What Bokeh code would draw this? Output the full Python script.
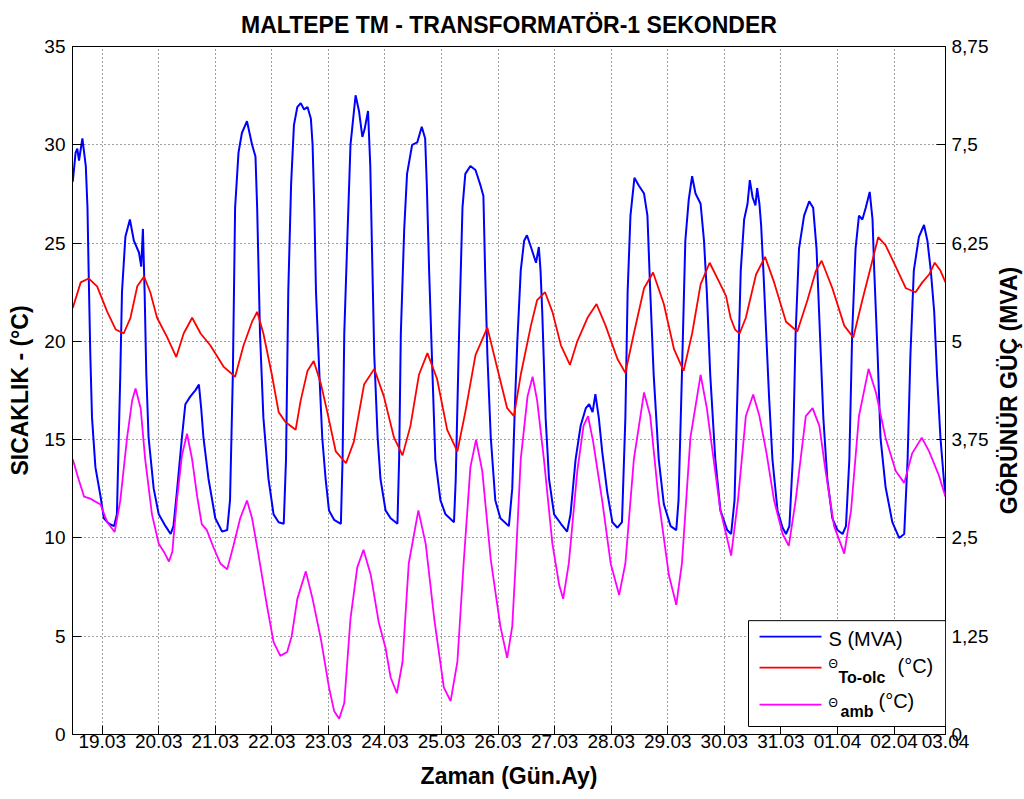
import math
from bokeh.plotting import figure
from bokeh.models import Range1d, LinearAxis, FixedTicker, BoxAnnotation, Label
from bokeh.embed import file_html
from bokeh.resources import INLINE

# ---------------- data (time in days since 19.03 00:00) ----------------
s_time = [-0.52, -0.47, -0.44, -0.41, -0.35, -0.29, -0.26, -0.24, -0.21, -0.18, -0.12, -0.03, 0.03, 0.12, 0.21,
          0.26, 0.32, 0.35, 0.41, 0.49, 0.56, 0.65, 0.69, 0.72, 0.75, 0.78, 0.82, 0.91, 1.00, 1.12, 1.21, 1.26,
          1.32, 1.41, 1.47, 1.56, 1.65, 1.71, 1.75, 1.79, 1.88, 2.00, 2.12, 2.21, 2.26, 2.31, 2.35, 2.41, 2.47,
          2.56, 2.65, 2.71, 2.74, 2.79, 2.85, 2.94, 3.03, 3.12, 3.21, 3.25, 3.29, 3.34, 3.39, 3.45, 3.51, 3.57,
          3.63, 3.69, 3.72, 3.75, 3.78, 3.84, 3.89, 3.95, 4.01, 4.10, 4.22, 4.25, 4.28, 4.34, 4.39, 4.48, 4.54,
          4.60, 4.64, 4.70, 4.74, 4.77, 4.81, 4.87, 4.92, 5.01, 5.10, 5.22, 5.25, 5.28, 5.34, 5.39, 5.48, 5.57,
          5.65, 5.71, 5.74, 5.78, 5.84, 5.89, 5.98, 6.07, 6.22, 6.25, 6.31, 6.37, 6.42, 6.51, 6.60, 6.69, 6.74,
          6.77, 6.81, 6.87, 6.95, 7.04, 7.19, 7.25, 7.30, 7.34, 7.40, 7.46, 7.51, 7.58, 7.67, 7.72, 7.75, 7.78,
          7.84, 7.90, 7.99, 8.11, 8.22, 8.28, 8.37, 8.46, 8.55, 8.61, 8.67, 8.72, 8.78, 8.84, 8.93, 9.02, 9.11,
          9.19, 9.25, 9.29, 9.34, 9.41, 9.49, 9.58, 9.64, 9.69, 9.75, 9.84, 9.93, 10.05, 10.15, 10.19, 10.25,
          10.31, 10.37, 10.43, 10.49, 10.58, 10.64, 10.69, 10.75, 10.84, 10.93, 11.05, 11.12, 11.18, 11.24,
          11.29, 11.35, 11.41, 11.45, 11.50, 11.55, 11.58, 11.62, 11.65, 11.69, 11.74, 11.79, 11.85, 11.94,
          12.03, 12.09, 12.15, 12.21, 12.26, 12.32, 12.41, 12.50, 12.57, 12.63, 12.69, 12.75, 12.82, 12.91,
          13.00, 13.09, 13.15, 13.21, 13.26, 13.32, 13.38, 13.44, 13.50, 13.57, 13.62, 13.65, 13.71, 13.76,
          13.85, 13.97, 14.09, 14.18, 14.24, 14.29, 14.35, 14.44, 14.53, 14.59, 14.65, 14.71, 14.76, 14.82,
          14.88, 14.91]
s_mva = [7.03, 7.40, 7.45, 7.30, 7.58, 7.23, 6.70, 5.90, 4.83, 4.03, 3.40, 3.03, 2.75, 2.68, 2.65,
         2.80, 4.58, 5.63, 6.33, 6.55, 6.28, 6.13, 5.95, 6.43, 5.63, 4.58, 3.78, 3.13, 2.80, 2.65, 2.55, 2.65,
         3.08, 3.78, 4.20, 4.30, 4.38, 4.45, 4.15, 3.78, 3.25, 2.75, 2.58, 2.60, 2.98, 4.58, 6.70, 7.40, 7.65,
         7.80, 7.50, 7.35, 6.70, 5.10, 4.03, 3.25, 2.80, 2.70, 2.68, 3.50, 5.63, 7.00, 7.75, 7.98, 8.03, 7.95,
         7.98, 7.83, 7.50, 6.70, 5.63, 4.58, 3.78, 3.25, 2.85, 2.73, 2.68, 3.50, 5.10, 6.43, 7.50, 8.13, 7.93,
         7.60, 7.70, 7.93, 7.23, 6.18, 4.83, 3.78, 3.25, 2.85, 2.75, 2.68, 3.50, 5.10, 6.43, 7.13, 7.50, 7.53,
         7.73, 7.58, 6.98, 5.90, 4.58, 3.50, 2.98, 2.80, 2.70, 3.23, 5.10, 6.70, 7.13, 7.23, 7.18, 6.98, 6.85,
         5.90, 4.83, 3.78, 2.98, 2.75, 2.65, 3.13, 4.25, 5.00, 5.90, 6.28, 6.35, 6.20, 6.00, 6.20, 5.90, 5.38,
         4.03, 3.25, 2.80, 2.68, 2.58, 2.80, 3.50, 3.93, 4.15, 4.20, 4.10, 4.33, 4.03, 3.60, 3.08, 2.70, 2.63,
         2.70, 4.03, 5.63, 6.60, 7.08, 6.98, 6.88, 6.60, 5.63, 4.58, 3.50, 2.93, 2.65, 2.60, 2.98, 4.58,
         6.28, 6.80, 7.10, 6.88, 6.75, 6.28, 5.63, 4.58, 3.50, 2.85, 2.60, 2.55, 2.98, 4.58,
         5.90, 6.55, 6.75, 7.05, 6.83, 6.73, 6.95, 6.75, 6.48, 5.90, 5.10, 4.30, 3.50, 2.85,
         2.63, 2.55, 2.65, 3.50, 5.10, 6.18, 6.60, 6.78, 6.70, 6.18, 5.10, 4.03, 3.25, 2.75,
         2.60, 2.55, 2.65, 3.50, 5.10, 6.18, 6.60, 6.55, 6.70, 6.90, 6.55, 5.90, 4.83, 3.78,
         3.15, 2.70, 2.50, 2.55, 3.50, 4.83, 5.90, 6.33, 6.48, 6.28, 5.90, 5.38, 4.58, 3.78,
         3.25, 3.03]

oil_time = [-0.52, -0.38, -0.24, -0.09, 0.09, 0.24, 0.38, 0.50, 0.62, 0.74, 0.85, 0.97, 1.15, 1.31, 1.44,
            1.59, 1.74, 1.91, 2.15, 2.35, 2.50, 2.65, 2.74, 2.85, 3.00, 3.12, 3.24, 3.42, 3.51, 3.63, 3.74,
            3.87, 3.98, 4.13, 4.31, 4.45, 4.63, 4.81, 4.98, 5.16, 5.31, 5.45, 5.60, 5.75, 5.92, 6.10, 6.28,
            6.42, 6.60, 6.81, 6.98, 7.16, 7.28, 7.40, 7.58, 7.69, 7.83, 7.96, 8.11, 8.27, 8.40, 8.58, 8.74,
            8.90, 9.11, 9.25, 9.40, 9.58, 9.74, 9.93, 10.11, 10.28, 10.43, 10.58, 10.74, 10.93, 11.03, 11.11,
            11.19, 11.27, 11.38, 11.56, 11.72, 11.88, 12.09, 12.29, 12.47, 12.62, 12.72, 12.91, 13.12, 13.28,
            13.44, 13.59, 13.72, 13.85, 14.03, 14.21, 14.38, 14.50, 14.62, 14.72, 14.82, 14.91]
oil_temp = [21.7, 23.0, 23.2, 22.8, 21.5, 20.6, 20.4, 21.2, 22.8, 23.3, 22.5, 21.2, 20.2, 19.2, 20.4,
            21.2, 20.4, 19.8, 18.7, 18.2, 19.8, 21.0, 21.5, 20.4, 18.3, 16.4, 15.9, 15.5, 17.0, 18.5, 19.0,
            17.8, 16.4, 14.4, 13.8, 14.9, 17.8, 18.6, 17.2, 15.1, 14.2, 15.7, 18.3, 19.4, 18.1, 15.5, 14.4,
            16.4, 19.3, 20.7, 18.7, 16.6, 16.2, 18.3, 20.8, 22.1, 22.5, 21.5, 19.8, 18.8, 20.0, 21.2, 21.9,
            20.8, 19.1, 18.4, 20.4, 22.7, 23.5, 21.9, 19.6, 18.5, 20.4, 22.9, 24.0, 22.9, 22.3, 21.2,
            20.6, 20.4, 21.2, 23.4, 24.3, 23.0, 21.0, 20.5, 22.1, 23.6, 24.1, 22.7, 20.8, 20.2,
            22.1, 23.8, 25.3, 24.9, 23.8, 22.7, 22.5, 23.0, 23.4, 24.0, 23.6, 23.0]

amb_time = [-0.52, -0.44, -0.32, -0.21, -0.03, 0.09, 0.22, 0.32, 0.44, 0.53, 0.59, 0.68, 0.76, 0.88, 1.00,
            1.09, 1.18, 1.24, 1.32, 1.41, 1.50, 1.59, 1.68, 1.76, 1.85, 1.97, 2.09, 2.21, 2.32, 2.44, 2.56,
            2.65, 2.76, 2.91, 3.03, 3.15, 3.27, 3.35, 3.45, 3.60, 3.72, 3.87, 4.01, 4.10, 4.19, 4.28, 4.39,
            4.51, 4.62, 4.75, 4.89, 5.01, 5.10, 5.21, 5.31, 5.42, 5.59, 5.72, 5.87, 6.04, 6.16, 6.28, 6.39,
            6.51, 6.61, 6.72, 6.87, 7.04, 7.16, 7.25, 7.31, 7.40, 7.52, 7.61, 7.69, 7.81, 7.96, 8.08, 8.15,
            8.25, 8.40, 8.51, 8.59, 8.68, 8.84, 8.99, 9.14, 9.25, 9.40, 9.58, 9.69, 9.84, 10.02, 10.15, 10.25,
            10.40, 10.58, 10.69, 10.81, 10.93, 11.03, 11.12, 11.24, 11.38, 11.51, 11.62, 11.74, 11.88, 12.03,
            12.14, 12.26, 12.44, 12.56, 12.68, 12.79, 12.94, 13.12, 13.24, 13.38, 13.55, 13.68, 13.85, 14.03,
            14.18, 14.32, 14.49, 14.62, 14.79, 14.91]
amb_temp = [14.0, 13.2, 12.1, 12.0, 11.7, 10.8, 10.3, 11.9, 15.1, 17.0, 17.6, 16.6, 14.0, 11.2, 9.7,
            9.3, 8.8, 9.3, 11.9, 14.2, 15.3, 14.0, 12.1, 10.7, 10.4, 9.5, 8.7, 8.4, 9.6, 11.0, 11.9,
            11.0, 9.2, 6.6, 4.7, 4.0, 4.2, 5.0, 6.9, 8.3, 6.9, 4.8, 2.4, 1.2, 0.8, 1.6, 5.9,
            8.5, 9.4, 8.1, 5.7, 4.4, 2.9, 2.1, 3.7, 8.7, 11.4, 9.7, 5.9, 2.4, 1.7, 3.7, 8.7,
            13.6, 15.0, 13.4, 8.9, 5.5, 3.9, 5.5, 8.7, 14.0, 17.2, 18.2, 17.0, 14.0, 9.7, 7.6, 6.9,
            8.7, 13.4, 15.7, 16.2, 14.9, 11.9, 8.7, 7.1, 8.7, 14.0, 17.4, 16.2, 11.9, 8.1, 6.6, 8.7,
            15.1, 18.3, 16.6, 14.0, 11.4, 10.2, 9.1, 11.9, 16.2, 17.3, 16.2, 14.4, 11.9, 10.2,
            9.6, 11.9, 16.2, 16.6, 15.7, 13.4, 10.6, 9.2, 11.4, 16.2, 18.6, 17.4, 15.1, 13.4,
            12.8, 14.3, 15.1, 14.4, 13.2, 12.1]

x_tick_labels = ["19.03", "20.03", "21.03", "22.03", "23.03", "24.03", "25.03", "26.03", "27.03",
                 "28.03", "29.03", "30.03", "31.03", "01.04", "02.04", "03.04"]
temp_ticks = [0, 5, 10, 15, 20, 25, 30, 35]
mva_ticks = [0, 1.25, 2.5, 3.75, 5, 6.25, 7.5, 8.75]
mva_tick_labels = ["0", "1,25", "2,5", "3,75", "5", "6,25", "7,5", "8,75"]

title_text = "MALTEPE TM - TRANSFORMATÖR-1 SEKONDER"
x_label = "Zaman (Gün.Ay)"
y_left_label = "SICAKLIK - (°C)"
y_right_label = "GÖRÜNÜR GÜÇ (MVA)"

# ---------------- figure ----------------
X0, X1 = -0.525, 14.91
Y0, Y1 = 0, 35
FONT = "Liberation Sans"
LABEL_SIZE = "23px"

p = figure(width=1024, height=799, output_backend="svg", toolbar_location=None,
           x_range=Range1d(X0, X1), y_range=Range1d(Y0, Y1),
           min_border_left=72, min_border_right=79, min_border_top=45, min_border_bottom=65,
           background_fill_color="white", border_fill_color="white")
p.extra_y_ranges = {"mva": Range1d(mva_ticks[0], mva_ticks[-1])}

p.title.text = title_text
p.title.align = "center"
p.title.text_font = FONT
p.title.text_font_size = "23px"
p.title.text_font_style = "bold"
p.title.text_color = "black"
p.title.standoff = 18

p.outline_line_color = "black"
p.outline_line_width = 1
p.outline_line_alpha = 1

x_ticks = list(range(len(x_tick_labels) - 1)) + [X1]

def style_axis(ax):
    ax.axis_line_color = "black"
    ax.major_tick_line_color = "black"
    ax.major_tick_in = 9
    ax.major_tick_out = 0
    ax.minor_tick_line_color = None
    ax.major_label_text_font = FONT
    ax.major_label_text_font_size = "19px"
    ax.major_label_text_color = "black"
    ax.axis_label_text_font = FONT
    ax.axis_label_text_font_size = LABEL_SIZE
    ax.axis_label_text_font_style = "bold"
    ax.axis_label_text_color = "black"

xa = p.xaxis[0]
xa.ticker = FixedTicker(ticks=x_ticks)
xa.major_label_overrides = {t: lab for t, lab in zip(x_ticks, x_tick_labels)}
xa.axis_label = x_label
style_axis(xa)
xa.major_label_standoff = 0
xa.axis_label_standoff = 12

ya = p.yaxis[0]
ya.ticker = FixedTicker(ticks=temp_ticks)
ya.axis_label = y_left_label
style_axis(ya)
ya.major_label_standoff = 7
ya.axis_label_standoff = 8

ra = LinearAxis(y_range_name="mva", ticker=FixedTicker(ticks=mva_ticks),
                major_label_overrides={t: lab for t, lab in zip(mva_ticks, mva_tick_labels)})
style_axis(ra)
ra.major_label_standoff = 6
p.add_layout(ra, "right")

for g in (p.xgrid[0], p.ygrid[0]):
    g.grid_line_color = "black"
    g.grid_line_alpha = 0.75
    g.grid_line_dash = "1 3"
    g.grid_line_width = 1
p.xgrid[0].ticker = FixedTicker(ticks=x_ticks)
p.ygrid[0].ticker = FixedTicker(ticks=temp_ticks)

# ---------------- series ----------------
p.line(s_time, s_mva, y_range_name="mva", line_color="#0000FF", line_width=2)
p.line(oil_time, oil_temp, line_color="#FF0000", line_width=1.8)
p.line(amb_time, amb_temp, line_color="#FF00FF", line_width=1.8)

# ---------------- helpers for hand-placed texts ----------------
FL, FR, FT, FB = 72, 945, 45, 734
def dx(px):
    return X0 + (px - FL) / (FR - FL) * (X1 - X0)
def dy(py):
    return Y0 + (FB - py) / (FB - FT) * (Y1 - Y0)

# right axis title, reading bottom-to-top like the reference (placed in the right side panel)
p.add_layout(Label(x=dx(1008), y=dy((FT + FB) / 2), text=y_right_label, angle=math.pi / 2,
                   text_font=FONT, text_font_size=LABEL_SIZE, text_font_style="bold", text_color="black",
                   text_align="center", text_baseline="middle"), "right")

# legend (drawn by hand to allow subscripts)
box = BoxAnnotation(left=dx(748), right=dx(945), top=dy(620), bottom=dy(726),
                    fill_color="white", fill_alpha=1, line_color="black", line_width=1, line_alpha=1)
p.add_layout(box)

for py, col in ((636, "#0000FF"), (667, "#FF0000"), (704, "#FF00FF")):
    r = p.segment(x0=[dx(759)], y0=[dy(py)], x1=[dx(821)], y1=[dy(py)], line_color=col, line_width=1.8)
    r.level = "overlay"

def lab(px, py, text, size, bold=False):
    p.add_layout(Label(x=dx(px), y=dy(py), text=text, text_font=FONT, text_font_size=size,
                       text_font_style="bold" if bold else "normal", text_color="black",
                       text_baseline="middle", text_align="left"))

lab(828, 638, "S (MVA)", "20px")
lab(828, 663, "Θ", "12px")
lab(838, 677, "To-olc", "16px", bold=True)
lab(897, 665, "(°C)", "20px")
lab(828, 702, "Θ", "12px")
lab(840, 711, "amb", "16px", bold=True)
lab(878, 700, "(°C)", "20px")

open("out.html", "w").write(file_html(p, INLINE))
